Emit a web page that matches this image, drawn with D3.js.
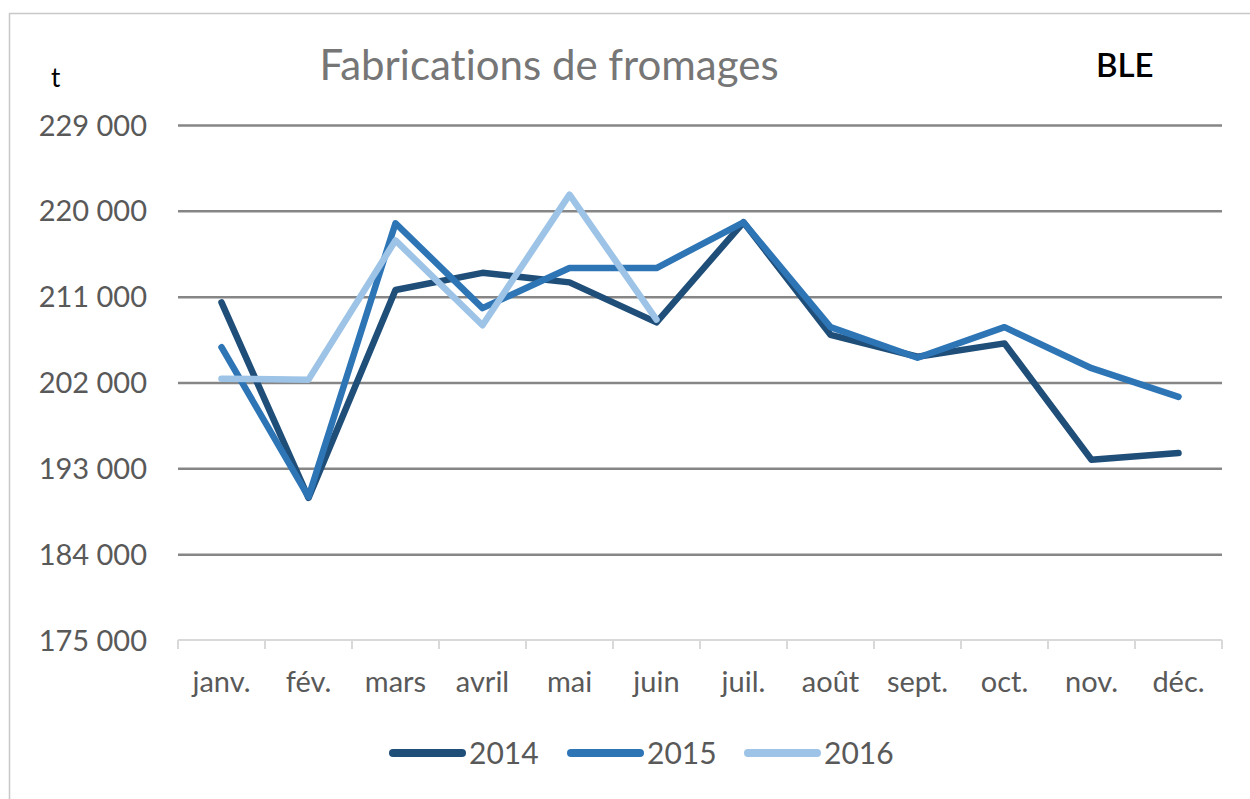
<!DOCTYPE html>
<html>
<head>
<meta charset="utf-8">
<script src="https://cdn.jsdelivr.net/npm/d3@7"></script>
<style>
  html, body { margin: 0; padding: 0; background: #fff; }
  svg { display: block; }
  text { font-family: Lato, "Open Sans", sans-serif; font-variant-ligatures: none; font-feature-settings: "liga" 0, "dlig" 0; }
</style>
</head>
<body>
<svg id="chart" width="1250" height="799"></svg>
<script>
const months = ["janv.", "fév.", "mars", "avril", "mai", "juin", "juil.", "août", "sept.", "oct.", "nov.", "déc."];
const years = ["2014", "2015", "2016"];
const values2014 = [210400, 189900, 211700, 213500, 212500, 208300, 218800, 207000, 204700, 206100, 193900, 194600];
const values2015 = [205700, 190000, 218700, 209800, 214000, 214000, 218800, 207800, 204600, 207800, 203500, 200500];
const values2016 = [202400, 202300, 216900, 208000, 221700, 208600];
const yTicks = [175000, 184000, 193000, 202000, 211000, 220000, 229000];
const seriesColors = ["#1f4e79", "#2e75b6", "#9dc3e6"];
const titleText = "Fabrications de fromages";
const unitText = "t";
const tagText = "BLE";

const series = [values2014, values2015, values2016];

const svg = d3.select("#chart");
const W = 1250, H = 799;
const plot = { left: 178, right: 1222, top: 125, bottom: 640 };

// outer border
svg.append("rect")
  .attr("x", 9.5).attr("y", 13.5)
  .attr("width", W + 20).attr("height", H + 20)
  .attr("fill", "none").attr("stroke", "#c8c8c8").attr("stroke-width", 1.5);

const x = d3.scaleBand().domain(months).range([plot.left, plot.right]).padding(0);
const y = d3.scaleLinear().domain([175000, 229000]).range([plot.bottom, plot.top]);

const locale = d3.formatLocale({ decimal: ",", thousands: "\u00a0", grouping: [3], currency: ["", "€"] });
const fmt = locale.format(",d");

// gridlines
const grid = svg.append("g").attr("transform", `translate(${plot.left},0)`)
  .call(d3.axisLeft(y).tickValues(yTicks.filter(v => v !== 175000)).tickSize(-(plot.right - plot.left)).tickFormat(""));
grid.select(".domain").remove();
grid.selectAll(".tick line").attr("stroke", "#868686").attr("stroke-width", 2.5);

// y labels
const yAxis = svg.append("g").attr("transform", `translate(${plot.left},0)`)
  .call(d3.axisLeft(y).tickValues(yTicks).tickSize(0).tickPadding(31).tickFormat(fmt));
yAxis.select(".domain").remove();
yAxis.selectAll("text")
  .attr("fill", "#595959").style("font-size", "29px").attr("dy", "0.35em");

// x axis
const xAxisG = svg.append("g").attr("transform", `translate(0,${plot.bottom})`);
const tickPos = months.map(m => x(m)).concat([plot.right]);
xAxisG.append("line")
  .attr("x1", plot.left).attr("x2", plot.right).attr("y1", 0).attr("y2", 0)
  .attr("stroke", "#d9d9d9").attr("stroke-width", 2);
xAxisG.selectAll("line.tk").data(tickPos).join("line").attr("class", "tk")
  .attr("x1", d => d).attr("x2", d => d).attr("y1", 0).attr("y2", 9)
  .attr("stroke", "#d9d9d9").attr("stroke-width", 2);
xAxisG.selectAll("text.xl").data(months).join("text").attr("class", "xl")
  .attr("x", d => x(d) + x.bandwidth() / 2).attr("y", 52)
  .attr("text-anchor", "middle").attr("fill", "#595959").style("font-size", "29px")
  .text(d => d);

// lines
const line = d3.line()
  .x((d, i) => x(months[i]) + x.bandwidth() / 2)
  .y(d => y(d));
series.forEach((vals, i) => {
  svg.append("path").datum(vals)
    .attr("d", line)
    .attr("fill", "none")
    .attr("stroke", seriesColors[i])
    .attr("stroke-width", 6.5)
    .attr("stroke-linejoin", "round")
    .attr("stroke-linecap", "round");
});

// title & labels
svg.append("text").attr("x", 549).attr("y", 80).attr("text-anchor", "middle")
  .attr("fill", "#767676").style("font-size", "42px").text(titleText);
svg.append("text").attr("x", 51).attr("y", 87)
  .attr("fill", "#000").style("font-size", "26px").text(unitText);
svg.append("text").attr("x", 1096).attr("y", 77)
  .attr("fill", "#000").style("font-size", "33px").style("font-weight", "600").text(tagText);

// legend
const legendX = [389, 567, 744];
const lg = svg.append("g");
years.forEach((yr, i) => {
  lg.append("line")
    .attr("x1", legendX[i] + 4).attr("x2", legendX[i] + 73)
    .attr("y1", 753).attr("y2", 753)
    .attr("stroke", seriesColors[i]).attr("stroke-width", 8).attr("stroke-linecap", "round");
  lg.append("text").attr("x", legendX[i] + 80).attr("y", 764)
    .attr("fill", "#595959").style("font-size", "30px").text(yr);
});
</script>
</body>
</html>
